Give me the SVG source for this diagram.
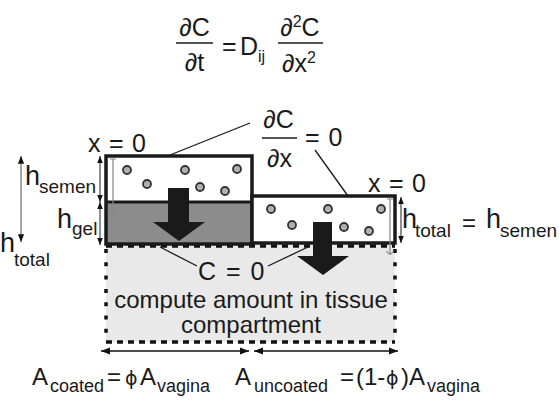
<svg xmlns="http://www.w3.org/2000/svg" width="559" height="406" viewBox="0 0 559 406">
<defs>
<style>
text{font-family:"Liberation Sans",Arial,sans-serif;fill:#1a1a1a;}
.m{font-size:24px;}
.f{font-size:25px;}
.h{font-size:27px;}
.s{font-size:19px;}
.b{font-size:18px;}
.phi{font-family:"DejaVu Sans","Liberation Sans",sans-serif;font-size:19px;}
.lead{stroke:#1a1a1a;stroke-width:1.3;fill:none;}
.dim{stroke:#777;stroke-width:1.3;fill:none;marker-start:url(#ah);marker-end:url(#ah);}
.dimk{stroke:#444;stroke-width:1.2;fill:none;marker-start:url(#ah);marker-end:url(#ah);}
.thin{stroke:#888;stroke-width:1.2;fill:none;}
.p{fill:#b0b0b0;stroke:#333;stroke-width:1.8;}
.bar{stroke:#1a1a1a;stroke-width:1.4;}
</style>
<marker id="ah" viewBox="0 0 10 10" refX="10" refY="5" markerWidth="6" markerHeight="6" orient="auto-start-reverse"><path d="M0,1 L10,5 L0,9 z" fill="#111"/></marker>
</defs>
<rect width="559" height="406" fill="#fff"/>

<g id="equation">
<text class="f" x="194.5" y="36" text-anchor="middle">∂C</text>
<line class="bar" x1="176" y1="43" x2="213" y2="43"/>
<text class="f" x="194.5" y="71" text-anchor="middle">∂t</text>
<text class="f" x="222" y="55">=</text>
<text class="f" x="240" y="55">D<tspan font-size="16" dy="7">ij</tspan></text>
<text class="f" x="300" y="36" text-anchor="middle">∂<tspan font-size="16" dy="-9">2</tspan><tspan dy="9">C</tspan></text>
<line class="bar" x1="278" y1="43" x2="323" y2="43"/>
<text class="f" x="299" y="72" text-anchor="middle">∂x<tspan font-size="16" dy="-9">2</tspan></text>
</g>

<g id="tissue">
<rect x="106" y="245" width="289" height="97" fill="#e9e9e9"/>
<line x1="106" y1="246" x2="395" y2="246" stroke="#111" stroke-width="3.5" stroke-dasharray="6 5"/>
<line x1="106" y1="342" x2="395" y2="342" stroke="#111" stroke-width="3.5" stroke-dasharray="6 5"/>
<line x1="106" y1="249" x2="106" y2="342" stroke="#111" stroke-width="3.5" stroke-dasharray="4 9.3"/>
<line x1="395" y1="249" x2="395" y2="342" stroke="#111" stroke-width="3.5" stroke-dasharray="4 9.3"/>
<text class="m" x="251" y="308" text-anchor="middle">compute amount in tissue</text>
<text class="m" x="251" y="333" text-anchor="middle">compartment</text>
</g>

<g id="coated">
<rect x="106" y="202" width="146" height="42" fill="#8c8c8c"/>
<rect x="106" y="156" width="146" height="88" fill="none" stroke="#1a1a1a" stroke-width="3.5"/>
<line x1="106" y1="202" x2="252" y2="202" stroke="#1a1a1a" stroke-width="3"/>
<circle class="p" cx="127" cy="170" r="4"/>
<circle class="p" cx="185" cy="170" r="4"/>
<circle class="p" cx="237" cy="169" r="4"/>
<circle class="p" cx="147" cy="184" r="4"/>
<circle class="p" cx="200" cy="187" r="4"/>
<circle class="p" cx="225" cy="191" r="4"/>
<polygon points="168,188 189,188 189,222 205,222 179,241 153,222 168,222" fill="#1a1a1a"/>
<path class="thin" d="M110,159 H116 M113,159 V218 M109.5,214 Q113,220 116.5,214"/>
</g>

<g id="uncoated">
<rect x="252" y="196" width="143" height="47" fill="#fff" stroke="#1a1a1a" stroke-width="3.5"/>
<circle class="p" cx="271" cy="209" r="4"/>
<circle class="p" cx="328" cy="209" r="4"/>
<circle class="p" cx="381" cy="209" r="4"/>
<circle class="p" cx="292" cy="225" r="4"/>
<circle class="p" cx="344" cy="227" r="4"/>
<circle class="p" cx="369" cy="231" r="4"/>
<polygon points="313,222 332,222 332,256 349,256 323,275 297,256 313,256" fill="#1a1a1a"/>
<path class="thin" d="M387,199 H393 M390,199 V255 M386.5,251 Q390,257 393.5,251"/>
</g>

<g id="connectors">
<line class="lead" x1="250" y1="123" x2="170" y2="155"/>
<line class="lead" x1="315" y1="150" x2="348" y2="196"/>
<line class="lead" x1="160" y1="247" x2="197" y2="266"/>
<line class="lead" x1="268" y1="266" x2="308" y2="247"/>
<line class="dim" x1="21" y1="156" x2="21" y2="242"/>
<line class="dimk" x1="100" y1="156" x2="100" y2="202"/>
<line class="dimk" x1="100" y1="202" x2="100" y2="245"/>
<line class="dimk" x1="401" y1="197" x2="401" y2="243"/>
<line stroke="#111" stroke-width="1.5" x1="101" y1="351" x2="249" y2="351" marker-start="url(#ah)" marker-end="url(#ah)"/>
<line stroke="#111" stroke-width="1.5" x1="254" y1="351" x2="398" y2="351" marker-start="url(#ah)" marker-end="url(#ah)"/>
</g>

<g id="labels">
<text class="f" x="88" y="152" word-spacing="1.5">x = 0</text>
<text class="f" x="368" y="192" word-spacing="1.5">x = 0</text>
<text class="f" x="278.5" y="128" text-anchor="middle">∂C</text>
<line class="bar" x1="262" y1="138" x2="297" y2="138"/>
<text class="f" x="279.5" y="167" text-anchor="middle">∂x</text>
<text class="f" x="305" y="146" word-spacing="2">= 0</text>
<text class="f" x="198" y="280" word-spacing="3">C = 0</text>
<text class="h" x="25" y="185">h</text><text class="s" x="39" y="193">semen</text>
<text class="h" x="57" y="228">h</text><text class="s" x="72" y="235">gel</text>
<text class="h" x="0" y="252">h</text><text class="s" x="14" y="266" font-size="20">total</text>
<text class="h" x="402" y="228">h</text><text class="s" x="415" y="237">total</text>
<text class="m" x="462" y="231">=</text>
<text class="h" x="486" y="228">h</text><text class="s" x="500" y="237">semen</text>
<text class="m" x="32" y="385">A<tspan class="b" x="50" y="392">coated</tspan><tspan x="107" y="385">=</tspan><tspan class="phi" x="125" y="385">ϕ</tspan><tspan x="140" y="385">A</tspan><tspan class="b" x="157" y="392">vagina</tspan></text>
<text class="m" x="235" y="385">A<tspan class="b" x="254" y="392">uncoated</tspan><tspan x="340" y="385">=</tspan><tspan x="356" y="385">(1-</tspan><tspan class="phi" x="386" y="385">ϕ</tspan><tspan x="401" y="385">)A</tspan><tspan class="b" x="427" y="392">vagina</tspan></text>
</g>
</svg>
